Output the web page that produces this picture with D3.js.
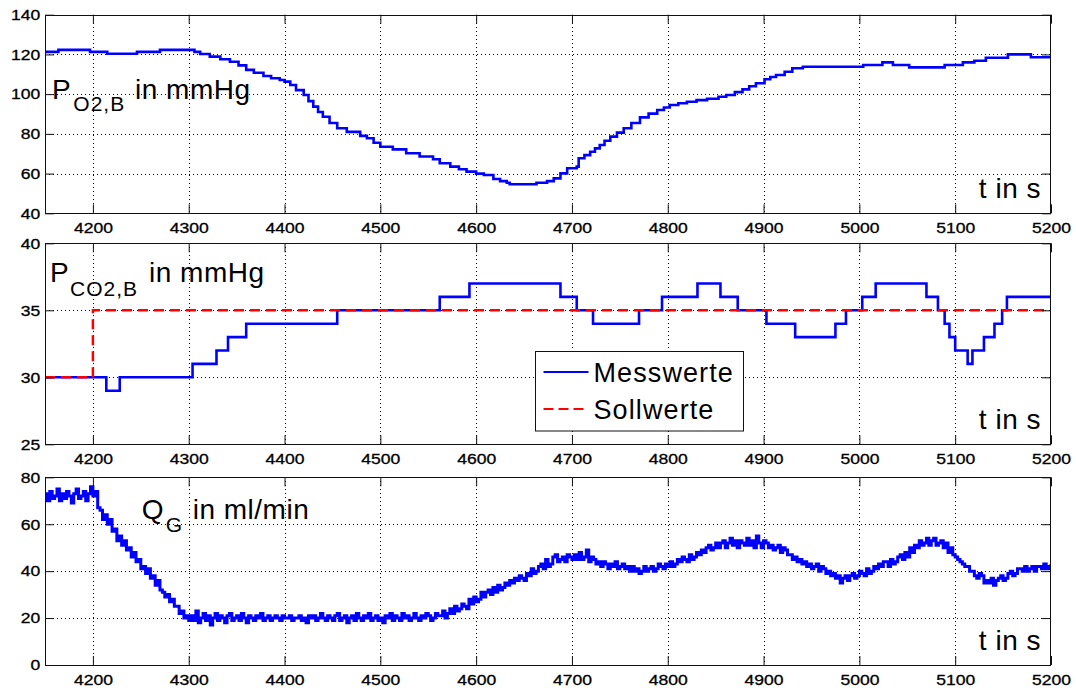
<!DOCTYPE html>
<html>
<head>
<meta charset="utf-8">
<script src="https://cdn.jsdelivr.net/npm/d3@7/dist/d3.min.js"></script>
<style>
  html, body { margin: 0; padding: 0; background: #fff; }
  svg { display: block; font-family: "Liberation Sans", Arial, Helvetica, sans-serif; }
</style>
</head>
<body>
<svg id="chart" width="1076" height="691"></svg>
<script>
// ---- data -------------------------------------------------------------
// time axis (s)
const timeDomain = [4150, 5200];
const xTicks = [4200, 4300, 4400, 4500, 4600, 4700, 4800, 4900, 5000, 5100, 5200];

// arterial O2 partial pressure (mmHg), step-wise samples
const tO2 = [4150, 4164, 4197, 4215, 4246, 4270, 4306, 4312, 4322, 4333, 4343, 4352, 4360, 4368,
  4378, 4386, 4395, 4400, 4406, 4412, 4420, 4425, 4430, 4435, 4440, 4447, 4455, 4465, 4479, 4486,
  4493, 4500, 4513, 4527, 4541, 4555, 4562, 4573, 4582, 4590, 4600, 4608, 4618, 4625, 4632, 4635,
  4663, 4674, 4681, 4688, 4695, 4705, 4707, 4713, 4719, 4724, 4729, 4734, 4740, 4747, 4754, 4762,
  4771, 4780, 4789, 4796, 4802, 4811, 4820, 4830, 4841, 4853, 4861, 4870, 4878, 4885, 4892, 4901,
  4907, 4913, 4922, 4930, 4941, 5004, 5024, 5035, 5052, 5089, 5108, 5120, 5132, 5155, 5179, 5200];
const pO2 = [121.3, 122.3, 121.3, 120.3, 121.3, 122.3, 121.3, 120.2, 118.9, 117.6, 116.3, 114.5, 112.2, 110.8,
  109.1, 108.0, 107.1, 106.3, 104.6, 102.0, 99.6, 96.5, 93.7, 91.0, 88.6, 85.5, 82.8, 81.0, 79.0, 77.8,
  75.5, 73.5, 72.2, 70.2, 68.6, 67.2, 65.2, 63.5, 62.2, 61.0, 60.0, 59.3, 57.3, 56.2, 55.4, 54.6,
  55.4, 56.2, 57.6, 60.1, 62.7, 63.5, 67.7, 69.3, 71.0, 72.7, 74.4, 76.5, 78.6, 80.6, 82.8, 85.5,
  88.3, 90.2, 92.0, 93.3, 94.5, 95.4, 96.2, 97.0, 97.7, 98.7, 99.6, 101.0, 102.4, 104.0, 105.5, 107.5,
  108.6, 109.6, 111.3, 113.0, 113.8, 114.7, 116.0, 114.7, 113.5, 114.7, 116.0, 116.8, 118.3, 120.0, 118.6, 117.9];
const yTicksO2 = [40, 60, 80, 100, 120, 140];

// arterial CO2 partial pressure (mmHg): measured and set point
const tCO2 = [4150, 4214, 4228, 4304, 4329, 4341, 4360, 4455, 4562, 4593, 4688, 4705, 4722, 4770,
  4794, 4831, 4855, 4873, 4903, 4933, 4975, 4986, 5003, 5017, 5070, 5082, 5089, 5094, 5100, 5113,
  5118, 5130, 5141, 5149, 5154, 5200];
const pCO2 = [30, 29, 30, 31, 32, 33, 34, 35, 36, 37, 36, 35, 34, 35,
  36, 37, 36, 35, 34, 33, 34, 35, 36, 37, 36, 35, 34, 33, 32, 31,
  32, 33, 34, 35, 36, 36];
const tSoll = [4150, 4200, 5200];
const pSoll = [30, 35, 35];
const yTicksCO2 = [25, 30, 35, 40];

// gas flow Q_G (ml/min), sampled every 2.5 s from 4150 s to 5200 s
const qG = [
  // 4150 - 4200
  73, 70, 74, 71, 72, 75, 70, 73, 71, 74, 72, 69, 73, 75, 71, 72, 74, 70, 73, 76, 72,
  // 4202.5 - 4300
  74, 67, 66, 62, 64, 60, 62, 57, 58, 53, 55, 51, 53, 49, 50, 46, 48, 44, 45, 41,
  42, 39, 41, 37, 38, 34, 36, 32, 31, 29, 30, 27, 28, 25, 25, 22, 23, 20, 21, 19,
  // 4302.5 - 4560
  21, 19, 23, 18, 20, 22, 19, 21, 17, 20, 22, 19, 21, 20, 18, 21, 22, 19, 20, 21,
  19, 22, 20, 18, 21, 20, 19, 21, 20, 22, 19, 20, 21, 19, 20, 21, 20, 19, 21, 20,
  20, 21, 19, 20, 20, 21, 19, 20, 18, 21, 20, 21, 19, 20, 22, 20, 19, 21, 20, 19,
  21, 22, 19, 20, 21, 18, 20, 21, 19, 22, 20, 19, 21, 20, 22, 19, 20, 21, 19, 20,
  18, 21, 20, 22, 19, 21, 20, 19, 22, 20, 21, 19, 20, 22, 20, 19, 21, 20, 22, 21,
  19, 20, 22, 21,
  // 4562.5 - 4850
  21, 23, 20, 22, 24, 22, 25, 23, 24, 26, 25, 24, 28, 26, 29, 27, 28, 31, 29, 31,
  32, 30, 33, 31, 34, 32, 33, 35, 34, 36, 35, 37, 36, 38, 37, 36, 39, 38, 41, 39,
  40, 42, 43, 41, 45, 42, 43, 46, 47, 44, 45, 46, 44, 47, 46, 45, 47, 45, 48, 45,
  46, 49, 44, 46, 45, 43, 44, 42, 44, 43, 41, 43, 42, 44, 41, 42, 43, 41, 42, 40,
  42, 40, 41, 39, 40, 42, 40, 41, 42, 40, 41, 43, 42, 41, 43, 42, 44, 42, 43, 45,
  44, 46, 45, 44, 47, 45, 46, 48, 47, 49, 48, 50, 51, 49, 50, 52,
  // 4852.5 - 5200
  50, 52, 53, 50, 52, 54, 51, 53, 50, 53, 52, 51, 54, 51, 53, 50, 55, 52, 50, 53,
  52, 50, 51, 49, 50, 51, 48, 50, 49, 47, 47, 45, 46, 44, 45, 43, 44, 42, 43, 41,
  42, 43, 40, 42, 41, 39, 40, 38, 39, 37, 38, 35, 37, 38, 36, 38, 39, 37, 38, 40,
  39, 38, 41, 39, 40, 42, 41, 43, 42, 44, 44, 42, 45, 43, 44, 46, 47, 45, 48, 46,
  50, 48, 51, 50, 53, 51, 52, 54, 51, 53, 54, 51, 52, 53, 50, 52, 48, 50, 47, 46,
  45, 44, 43, 42, 42, 40, 40, 38, 37, 39, 38, 35, 36, 35, 37, 34, 36, 37, 38, 36,
  37, 39, 40, 38, 39, 41, 41, 40, 42, 40, 41, 42, 40, 42, 42, 41, 43, 41, 42, 43];
const yTicksQ = [0, 20, 40, 60, 80];

const legendLabels = ["Messwerte", "Sollwerte"];

// ---- layout -------------------------------------------------------------
const svg = d3.select("#chart");
const left = 45, right = 1051;
const tickLen = 9;
const fontTick = 15, tickStretch = 1.17;

const x = d3.scaleLinear().domain(timeDomain).range([left, right]);

const panels = [
  { top: 14.7, bottom: 213.3, domain: [40, 140], yTicks: yTicksO2 },
  { top: 243.3, bottom: 444.3, domain: [25, 40], yTicks: yTicksCO2 },
  { top: 477.3, bottom: 665, domain: [0, 80], yTicks: yTicksQ }
];

const defs = svg.append("defs");

panels.forEach((p, i) => {
  p.y = d3.scaleLinear().domain(p.domain).range([p.bottom, p.top]);
  const g = svg.append("g").attr("class", "panel" + i);
  p.g = g;

  defs.append("clipPath").attr("id", "clip" + i)
    .append("rect").attr("x", left).attr("y", p.top)
    .attr("width", right - left).attr("height", p.bottom - p.top);

  // dotted grid
  const grid = g.append("g").attr("stroke", "#000").attr("stroke-width", 1)
    .attr("stroke-dasharray", "1,3").attr("shape-rendering", "crispEdges");
  grid.selectAll("line.gx").data(xTicks.filter(t => t > timeDomain[0] && t < timeDomain[1]))
    .join("line").attr("class", "gx")
    .attr("x1", d => Math.round(x(d)) + 0.5).attr("x2", d => Math.round(x(d)) + 0.5)
    .attr("y1", p.top).attr("y2", p.bottom);
  grid.selectAll("line.gy").data(p.yTicks.filter(v => v > p.domain[0] && v < p.domain[1]))
    .join("line").attr("class", "gy")
    .attr("y1", d => Math.round(p.y(d)) + 0.5).attr("y2", d => Math.round(p.y(d)) + 0.5)
    .attr("x1", left).attr("x2", right);

  p.plot = g.append("g").attr("clip-path", "url(#clip" + i + ")");
});

// ---- series -------------------------------------------------------------
function stepLine(p, ts, vs) {
  return d3.line().curve(d3.curveStepAfter)
    .x(d => x(d[0])).y(d => p.y(d[1]))(ts.map((t, k) => [t, vs[k]]));
}

const blue = "#0000ff", red = "#ff0000";

panels[0].plot.append("path")
  .attr("d", stepLine(panels[0], tO2, pO2))
  .attr("fill", "none").attr("stroke", blue).attr("stroke-width", 2.6);

panels[1].plot.append("path")
  .attr("d", stepLine(panels[1], tCO2, pCO2))
  .attr("fill", "none").attr("stroke", blue).attr("stroke-width", 2.6);
panels[1].plot.append("path")
  .attr("d", stepLine(panels[1], tSoll, pSoll))
  .attr("fill", "none").attr("stroke", red).attr("stroke-width", 2.5)
  .attr("stroke-dasharray", "10,6");

// sample times spread evenly over the recorded interval
const tQ = qG.map((_, k) => timeDomain[0] + k * (timeDomain[1] - timeDomain[0]) / (qG.length - 1));
panels[2].plot.append("path")
  .attr("d", stepLine(panels[2], tQ, qG))
  .attr("fill", "none").attr("stroke", blue).attr("stroke-width", 3);

// ---- axes (ticks pointing inward on all four sides) ----------------------
panels.forEach((p) => {
  const g = p.g;
  const styleAxis = sel => {
    sel.select(".domain").remove();
    sel.selectAll(".tick line").attr("stroke", "#111").attr("stroke-width", 1);
    sel.selectAll(".tick text").attr("fill", "#000").attr("font-size", fontTick)
      .attr("font-family", "Liberation Sans, Arial, sans-serif")
      .attr("stroke", "#000").attr("stroke-width", 0.3)
      .attr("transform", `scale(${tickStretch},1)`);
  };
  g.append("g").attr("transform", `translate(0,${p.bottom})`)
    .call(d3.axisBottom(x).tickValues(xTicks).tickFormat(d3.format("d"))
      .tickSizeInner(-tickLen).tickSizeOuter(0).tickPadding(9))
    .call(styleAxis);
  g.append("g").attr("transform", `translate(0,${p.top})`)
    .call(d3.axisTop(x).tickValues(xTicks).tickFormat("")
      .tickSizeInner(-tickLen).tickSizeOuter(0))
    .call(styleAxis);
  g.append("g").attr("transform", `translate(${left},0)`)
    .call(d3.axisLeft(p.y).tickValues(p.yTicks).tickFormat(d3.format("d"))
      .tickSizeInner(-tickLen).tickSizeOuter(0).tickPadding(4))
    .call(styleAxis);
  g.append("g").attr("transform", `translate(${right},0)`)
    .call(d3.axisRight(p.y).tickValues(p.yTicks).tickFormat("")
      .tickSizeInner(-tickLen).tickSizeOuter(0))
    .call(styleAxis);

  g.append("rect").attr("x", left + 0.5).attr("y", Math.round(p.top) + 0.5)
    .attr("width", right - left - 1).attr("height", Math.round(p.bottom) - Math.round(p.top))
    .attr("fill", "none").attr("stroke", "#111").attr("stroke-width", 1)
    .attr("shape-rendering", "crispEdges");

  // time label, bottom right of each panel
  g.append("text").attr("x", right - 10).attr("y", p.bottom - 15)
    .attr("text-anchor", "end").attr("font-size", 28).attr("letter-spacing", 0.5)
    .attr("fill", "#000").text("t in s");
});

// ---- panel titles with subscripts --------------------------------------
function title(p, parts) {
  parts.forEach(([txt, dx, dy, size]) => {
    p.g.append("text").attr("x", left + dx).attr("y", p.top + dy)
      .attr("font-size", size).attr("letter-spacing", size < 24 ? 1 : 0.5)
      .attr("fill", "#000").text(txt);
  });
}
title(panels[0], [["P", 7, 84.3, 28], ["O2,B", 28.3, 96, 21], ["in mmHg", 90, 84.3, 28]]);
title(panels[1], [["P", 5, 38.4, 28], ["CO2,B", 25, 52.4, 21], ["in mmHg", 104, 38.4, 28]]);
title(panels[2], [["Q", 96.7, 42, 28], ["G", 120.7, 54.4, 21], ["in ml/min", 147.7, 42, 28]]);

// ---- legend ---------------------------------------------------------------
const lg = panels[1].g.append("g").attr("transform", "translate(535.5,351.5)");
lg.append("rect").attr("width", 208).attr("height", 79.5)
  .attr("fill", "#fff").attr("stroke", "#111").attr("stroke-width", 1);
const legendStyles = [
  { color: blue, dash: null },
  { color: red, dash: "10,5" }
];
legendLabels.forEach((name, k) => {
  const yy = 20.5 + k * 37;
  lg.append("line").attr("x1", 8).attr("x2", 53).attr("y1", yy).attr("y2", yy)
    .attr("stroke", legendStyles[k].color).attr("stroke-width", 2)
    .attr("stroke-dasharray", legendStyles[k].dash);
  lg.append("text").attr("x", 58).attr("y", yy + 10)
    .attr("font-size", 27).attr("letter-spacing", 1.1).attr("fill", "#000").text(name);
});
</script>
</body>
</html>
